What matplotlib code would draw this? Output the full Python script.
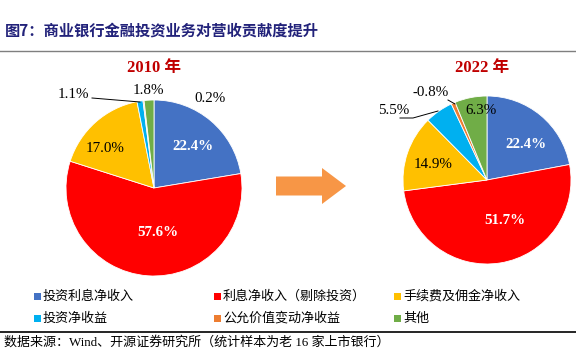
import matplotlib
matplotlib.use("Agg")
import matplotlib.pyplot as plt
from matplotlib.patches import Rectangle, FancyArrow

categories = ["投资利息净收入", "利息净收入（剔除投资）", "手续费及佣金净收入",
              "投资净收益", "公允价值变动净收益", "其他"]
colors = ["#4472C4", "#FF0000", "#FFC000", "#00B0F0", "#ED7D31", "#70AD47"]
values_2010 = [22.4, 57.6, 17.0, 1.1, 0.2, 1.8]
values_2022 = [22.4, 51.7, 14.9, 5.5, -0.8, 6.3]
years = ["2010 年", "2022 年"]

H = 350
fig = plt.figure(figsize=(5.76, 3.5), dpi=100)
ax = fig.add_axes([0, 0, 1, 1])
ax.set_xlim(0, 576)
ax.set_ylim(0, H)
ax.axis("off")

serif = ["Liberation Serif", "Noto Sans CJK SC"]
cjk = ["Noto Sans CJK SC", "DejaVu Sans"]

def Y(py):
    return H - py

# title
ax.text(5, Y(31), "图7：商业银行金融投资业务对营收贡献度提升", family=cjk,
        fontsize=11, fontweight="bold", color="#22227A", va="center", ha="left")
ax.plot([0, 576], [Y(51), Y(51)], color="#7F7F7F", lw=1)

def draw_pie(vals, cx, cy, r):
    ax.pie([abs(v) for v in vals], colors=colors, startangle=90, counterclock=False,
           center=(cx, Y(cy)), radius=r,
           wedgeprops=dict(edgecolor="white", linewidth=0.6))

draw_pie(values_2010, 154, 188, 88)
draw_pie(values_2022, 487, 180, 84)

ax.set_xlim(0, 576)
ax.set_ylim(0, H)
ax.set_aspect("auto")

# year titles
ax.text(154, Y(68), years[0], family=serif, fontsize=12, fontweight="bold",
        color="#C00000", ha="center", va="center")
ax.text(482, Y(68), years[1], family=serif, fontsize=12, fontweight="bold",
        color="#C00000", ha="center", va="center")

def fmt(v):
    return f"{v:.1f}%"

# 2010 labels
lab10 = [(193, 147, "white", "bold"), (158, 233, "white", "bold"),
         (105, 148, "black", "normal"), (73, 94, "black", "normal"),
         (210, 99, "black", "normal"), (148, 90, "black", "normal")]
for v, (x, y, c, w) in zip(values_2010, lab10):
    ax.text(x, Y(y), fmt(v), family=serif, fontsize=10.8, color=c, fontweight=w,
            ha="center", va="center")
ax.plot([92, 140], [Y(98), Y(102)], color="black", lw=0.7)

# 2022 labels
lab22 = [(526, 144, "white", "bold"), (505, 221, "white", "bold"),
         (433, 165, "black", "normal"), (394, 111, "black", "normal"),
         (431, 93, "black", "normal"), (481, 111, "black", "normal")]
for v, (x, y, c, w) in zip(values_2022, lab22):
    ax.text(x, Y(y), fmt(v), family=serif, fontsize=10.8, color=c, fontweight=w,
            ha="center", va="center")
ax.plot([400, 413, 438], [Y(118), Y(118), Y(111)], color="black", lw=0.7)
ax.plot([448, 455], [Y(100), Y(104)], color="black", lw=0.7)

# arrow
ax.add_patch(FancyArrow(276, Y(186), 46, 0, width=19, head_width=36, head_length=24,
                        length_includes_head=False, color="#F79646", lw=0))

# legend
col_x = [37, 217, 397]
row_y = [296, 318]
for i, (lab, c) in enumerate(zip(categories, colors)):
    x = col_x[i % 3]
    y = row_y[i // 3]
    ax.add_patch(Rectangle((x - 3.5, Y(y) - 3.5), 7, 7, facecolor=c, edgecolor="none"))
    ax.text(x + 6, Y(y), lab, family=cjk, fontsize=9.4, ha="left", va="center",
            color="black")

ax.plot([0, 576], [Y(332), Y(332)], color="black", lw=1.2)
ax.text(4, Y(342), "数据来源：Wind、开源证券研究所（统计样本为老 16 家上市银行）",
        family=["Liberation Serif", "Noto Sans CJK SC"], fontsize=9.4, ha="left",
        va="center", color="black")

fig.savefig("out.png", dpi=100)
